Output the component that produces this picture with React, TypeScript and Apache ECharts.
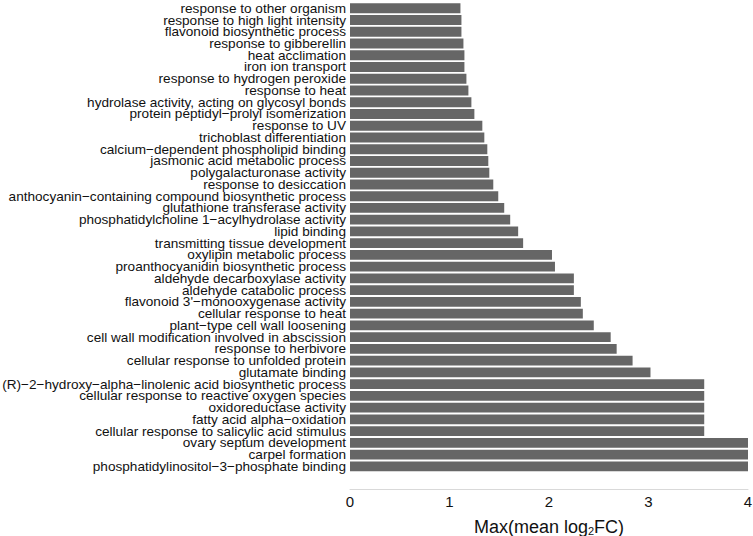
import React, { useEffect, useRef } from "react";
import * as echarts from "echarts";

// categories listed from bottom to top
const categories: string[] = [
  "phosphatidylinositol−3−phosphate binding",
  "carpel formation",
  "ovary septum development",
  "cellular response to salicylic acid stimulus",
  "fatty acid alpha−oxidation",
  "oxidoreductase activity",
  "cellular response to reactive oxygen species",
  "(R)−2−hydroxy−alpha−linolenic acid biosynthetic process",
  "glutamate binding",
  "cellular response to unfolded protein",
  "response to herbivore",
  "cell wall modification involved in abscission",
  "plant−type cell wall loosening",
  "cellular response to heat",
  "flavonoid 3'−monooxygenase activity",
  "aldehyde catabolic process",
  "aldehyde decarboxylase activity",
  "proanthocyanidin biosynthetic process",
  "oxylipin metabolic process",
  "transmitting tissue development",
  "lipid binding",
  "phosphatidylcholine 1−acylhydrolase activity",
  "glutathione transferase activity",
  "anthocyanin−containing compound biosynthetic process",
  "response to desiccation",
  "polygalacturonase activity",
  "jasmonic acid metabolic process",
  "calcium−dependent phospholipid binding",
  "trichoblast differentiation",
  "response to UV",
  "protein peptidyl−prolyl isomerization",
  "hydrolase activity, acting on glycosyl bonds",
  "response to heat",
  "response to hydrogen peroxide",
  "iron ion transport",
  "heat acclimation",
  "response to gibberellin",
  "flavonoid biosynthetic process",
  "response to high light intensity",
  "response to other organism",
];

const values: number[] = [
  4.0, 4.0, 4.0, 3.56, 3.56, 3.56, 3.56, 3.56, 3.02, 2.84,
  2.68, 2.62, 2.45, 2.34, 2.32, 2.25, 2.25, 2.06, 2.03, 1.74,
  1.69, 1.61, 1.55, 1.49, 1.44, 1.40, 1.39, 1.38, 1.35, 1.33,
  1.25, 1.22, 1.19, 1.17, 1.15, 1.15, 1.14, 1.12, 1.12, 1.11,
];

const xTicks: number[] = [0, 1, 2, 3, 4];

export default function App() {
  const ref = useRef<HTMLDivElement>(null);
  useEffect(() => {
    if (!ref.current) return;
    const chart = echarts.init(ref.current, null, { renderer: "svg" });
    const font = "'Liberation Sans', Arial, sans-serif";
    chart.setOption({
      animation: false,
      backgroundColor: "#ffffff",
      textStyle: { fontFamily: font },
      grid: { left: 350, right: 5, top: 2.4, bottom: 63.8, containLabel: false, outerBoundsMode: "none" },
      xAxis: {
        type: "value",
        min: xTicks[0],
        max: xTicks[xTicks.length - 1],
        interval: 1,
        offset: 17,
        splitLine: { show: false },
        axisTick: { show: false },
        axisLine: { show: true, lineStyle: { color: "#d9d9d9", width: 1 } },
        axisLabel: { color: "#111", fontSize: 15, margin: 5, fontFamily: font },
        name: "{a|Max(mean log}{s|2}{a|FC)}",
        nameLocation: "middle",
        nameGap: 27,
        nameTextStyle: {
          rich: {
            a: { fontSize: 18, color: "#111", fontFamily: font, verticalAlign: "bottom", lineHeight: 20 },
            s: { fontSize: 11, color: "#111", fontFamily: font, verticalAlign: "bottom", lineHeight: 14 },
          },
        },
      },
      yAxis: {
        type: "category",
        data: categories,
        axisLine: { show: false },
        axisTick: { show: false },
        axisLabel: { color: "#111", fontSize: 13.6, lineHeight: 11, margin: 4, fontFamily: font, interval: 0 },
      },
      series: [
        {
          type: "bar",
          data: values,
          barCategoryGap: "16%",
          itemStyle: { color: "#666666" },
        },
      ],
    });
    return () => chart.dispose();
  }, []);
  return <div ref={ref} style={{ width: 753, height: 536, position: "absolute", left: 0, top: 0 }} />;
}
